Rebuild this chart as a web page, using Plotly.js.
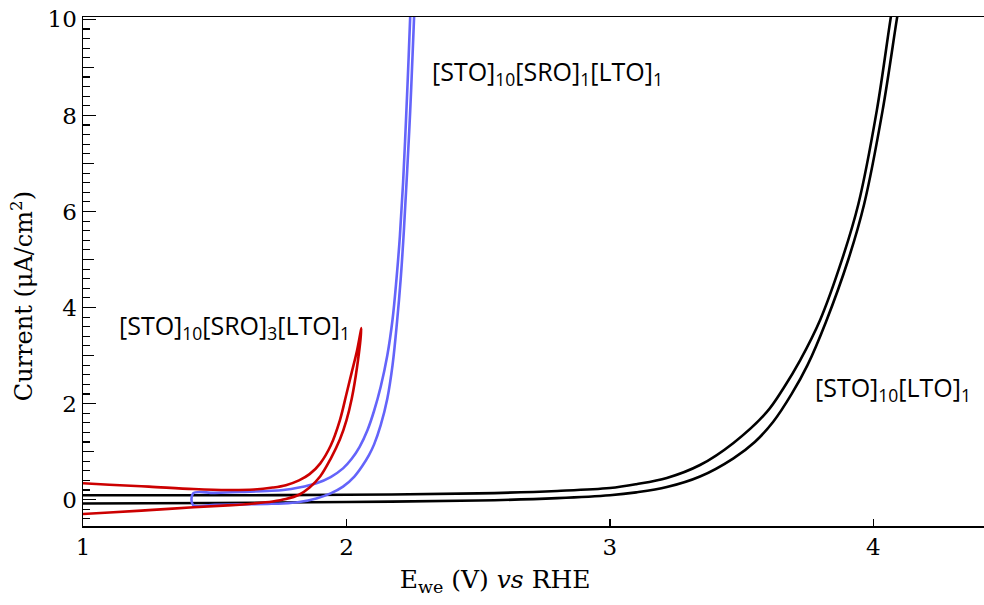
<!DOCTYPE html>
<html>
<head>
<meta charset="utf-8">
<script src="https://cdn.plot.ly/plotly-3.0.1.min.js"></script>
<style>html,body{margin:0;padding:0;background:#fff;}#chart{width:984px;height:605px;}</style>
</head>
<body>
<div id="chart"></div>
<script>
// [STO]10[LTO]1 (black): upper branch and lower branch
const blackUpX = [1.0, 1.5, 2.0, 2.5, 2.8, 3.0, 3.1, 3.216, 3.342, 3.469, 3.595, 3.66, 3.722, 3.798, 3.88, 3.943, 4.013, 4.065, 4.08];
const blackUpY = [0.09, 0.09, 0.10, 0.13, 0.18, 0.24, 0.32, 0.45, 0.72, 1.18, 1.82, 2.33, 2.90, 3.74, 4.98, 6.15, 8.1, 10.0, 10.5];
const blackLoX = [1.0, 1.5, 2.0, 2.5, 2.8, 3.0, 3.1, 3.216, 3.342, 3.469, 3.55, 3.62, 3.69, 3.75, 3.82, 3.905, 3.965, 4.035, 4.089, 4.104];
const blackLoY = [-0.08, -0.07, -0.05, -0.02, 0.03, 0.09, 0.15, 0.26, 0.48, 0.86, 1.20, 1.62, 2.20, 2.80, 3.70, 5.00, 6.15, 8.1, 10.0, 10.5];

// [STO]10[SRO]1[LTO]1 (blue): upper branch and lower branch
const blueUpX = [1.418, 1.5, 1.6, 1.7, 1.76, 1.82, 1.886, 1.94, 1.987, 2.02, 2.05, 2.08, 2.105, 2.13, 2.155, 2.175, 2.19, 2.203, 2.215, 2.226, 2.236, 2.245];
const blueUpY = [0.13, 0.14, 0.16, 0.18, 0.20, 0.25, 0.34, 0.47, 0.65, 0.85, 1.10, 1.45, 1.85, 2.35, 3.0, 3.75, 4.6, 5.5, 6.6, 7.9, 9.2, 10.5];
const blueLoX = [1.418, 1.5, 1.6, 1.7, 1.76, 1.82, 1.886, 1.94, 1.987, 2.03, 2.06, 2.085, 2.105, 2.13, 2.155, 2.175, 2.192, 2.206, 2.218, 2.23, 2.242, 2.252, 2.26];
const blueLoY = [-0.115, -0.11, -0.10, -0.09, -0.08, -0.05, 0.025, 0.13, 0.27, 0.48, 0.70, 0.92, 1.15, 1.55, 2.1, 2.8, 3.7, 4.6, 5.6, 6.8, 8.1, 9.4, 10.5];

// [STO]10[SRO]3[LTO]1 (red): upper branch and lower branch
const redUpX = [1.0, 1.1, 1.25, 1.42, 1.55, 1.65, 1.72, 1.77, 1.82, 1.86, 1.9, 1.94, 1.975, 2.0, 2.02, 2.04, 2.057];
const redUpY = [0.34, 0.31, 0.27, 0.22, 0.20, 0.21, 0.25, 0.30, 0.40, 0.53, 0.75, 1.12, 1.65, 2.2, 2.65, 3.1, 3.57];
const redLoX = [1.0, 1.1, 1.25, 1.42, 1.55, 1.65, 1.72, 1.77, 1.82, 1.86, 1.9, 1.94, 1.975, 2.0, 2.02, 2.04, 2.057];
const redLoY = [-0.30, -0.27, -0.22, -0.16, -0.12, -0.08, -0.04, 0.01, 0.10, 0.25, 0.48, 0.85, 1.25, 1.65, 2.1, 2.75, 3.57];

const labelText = ["[STO]<sub>10</sub>[SRO]<sub>1</sub>[LTO]<sub>1</sub>",
                   "[STO]<sub>10</sub>[SRO]<sub>3</sub>[LTO]<sub>1</sub>",
                   "[STO]<sub>10</sub>[LTO]<sub>1</sub>"];
const labelX = [2.317, 1.128, 3.77];
const labelY = [8.9, 3.6, 2.32];

const xTicks = [1, 2, 3, 4];
const yTicks = [0, 2, 4, 6, 8, 10];

function joinLoop(ux, uy, lx, ly) {
  return {x: ux.slice().reverse().concat(lx), y: uy.slice().reverse().concat(ly)};
}
function joinTip(ux, uy, lx, ly) {
  return {x: ux.concat(lx.slice(0, -1).reverse()), y: uy.concat(ly.slice(0, -1).reverse())};
}
const blu = joinLoop(blueUpX, blueUpY, blueLoX, blueLoY);
const rd = joinTip(redUpX, redUpY, redLoX, redLoY);

function ln(color) { return {shape: 'spline', smoothing: 1, width: 2.6, color: color}; }
const traces = [
  {x: blackUpX, y: blackUpY, mode: 'lines', name: '[STO]10[LTO]1', line: ln('#000000')},
  {x: blackLoX, y: blackLoY, mode: 'lines', name: '[STO]10[LTO]1 ', line: ln('#000000'), showlegend: false},
  {x: blu.x, y: blu.y, mode: 'lines', name: '[STO]10[SRO]1[LTO]1', line: ln('#6464FA')},
  {x: rd.x, y: rd.y, mode: 'lines', name: '[STO]10[SRO]3[LTO]1', line: ln('#CC0000')},
  {x: [1], y: [0], yaxis: 'y2', mode: 'markers', marker: {opacity: 0}, hoverinfo: 'skip', showlegend: false}
];

const serif = 'DejaVu Serif, Liberation Serif, serif';
const pad = s => '<span style="color:rgba(0,0,0,0)">' + s + '</span>';
const yr = [-0.55, 10.05];
const layout = {
  width: 984, height: 605,
  margin: {l: 83, r: 0, t: 17, b: 79},
  paper_bgcolor: '#ffffff', plot_bgcolor: '#ffffff',
  showlegend: false,
  font: {family: serif, size: 23, color: '#000'},
  xaxis: {
    range: [1, 4.42], tickvals: xTicks, ticktext: xTicks.map(String),
    ticks: 'inside', ticklen: 7, tickwidth: 1.3, tickcolor: '#000',
    showline: true, linecolor: '#000', linewidth: 1.5, mirror: true,
    showgrid: false, zeroline: false,
    tickfont: {family: serif, size: 23, color: '#000'},
    title: {text: 'E<sub>we</sub> (V) <i>vs</i> RHE' + pad('MMM'), font: {family: serif, size: 25, color: '#000'}, standoff: 11}
  },
  yaxis: {
    range: yr, tickvals: yTicks, ticktext: yTicks.map(String),
    ticks: 'inside', ticklen: 13, tickwidth: 1.3, tickcolor: '#000',
    minor: {dtick: 0.2, tick0: 0, ticks: 'inside', ticklen: 7, tickwidth: 1.1, tickcolor: '#000'},
    showline: true, linecolor: '#000', linewidth: 1.5,
    showgrid: false, zeroline: false,
    tickfont: {family: serif, size: 23, color: '#000'},
    title: {text: 'Current (μA/cm<sup>2</sup>)' + pad('MM'), font: {family: serif, size: 24, color: '#000'}, standoff: 8}
  },
  yaxis2: {
    overlaying: 'y', side: 'left', range: yr, dtick: 1, tick0: 1,
    ticks: 'inside', ticklen: 11, tickwidth: 1.1, tickcolor: '#000',
    showticklabels: false, showline: false, showgrid: false, zeroline: false
  },
  annotations: labelText.map((t, i) => ({
    x: labelX[i], y: labelY[i], xref: 'x', yref: 'y', text: t, showarrow: false,
    xanchor: 'left', yanchor: 'middle',
    font: {family: 'Open Sans, Lato, sans-serif', size: 25, color: '#000'}
  }))
};

Plotly.newPlot('chart', traces, layout, {staticPlot: true, displayModeBar: false});
</script>
</body>
</html>
